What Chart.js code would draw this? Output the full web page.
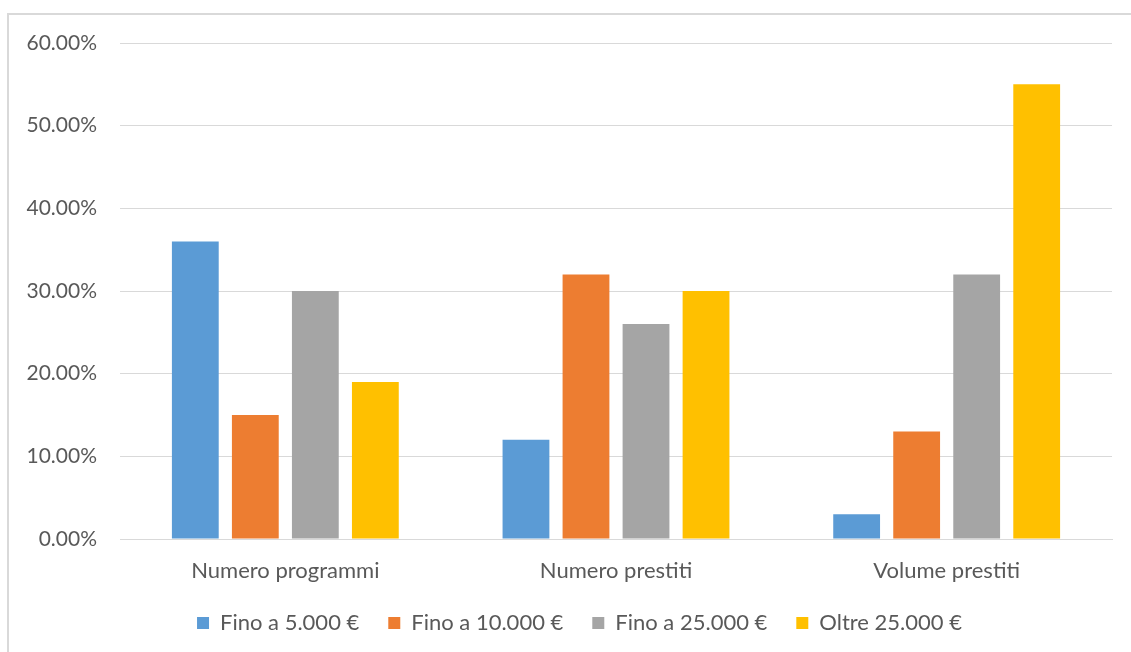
<!DOCTYPE html>
<html>
<head>
<meta charset="utf-8">
<script src="https://cdn.jsdelivr.net/npm/chart.js@4.4.1/dist/chart.umd.min.js"></script>
<style>
  html, body { margin: 0; padding: 0; background: #fff; }
  #box {
    position: absolute; left: 7px; top: 13px; width: 1122px; height: 637px;
    border-left: 2px solid #d9d9d9; border-top: 2px solid #d9d9d9;
  }
  canvas { display: block; }
</style>
</head>
<body>
<div id="box"><canvas id="chart" width="1122" height="637"></canvas></div>
<script>
const categories = ['Numero programmi', 'Numero prestiti', 'Volume prestiti'];
const seriesNames = ['Fino a 5.000 €', 'Fino a 10.000 €', 'Fino a 25.000 €', 'Oltre 25.000 €'];
const fino5000 = [36, 12, 3];
const fino10000 = [15, 32, 13];
const fino25000 = [30, 26, 32];
const oltre25000 = [19, 30, 55];
const yTicks = [0, 10, 20, 30, 40, 50, 60];

const colors = ['#5B9BD5', '#ED7D31', '#A5A5A5', '#FFC000'];
const values = [fino5000, fino10000, fino25000, oltre25000];

const family = 'Lato, "Open Sans", sans-serif';
const yFont = { family, size: 21 };
const xFont = { family, size: 22 };
const legendFont = { family, size: 22 };

// nudge the legend to where Excel puts it
const legendShift = {
  id: 'legendShift',
  afterLayout(chart) {
    const lg = chart.legend;
    lg.top -= 6; lg.bottom -= 6;
    lg.left += 19; lg.right += 19;
  }
};

new Chart(document.getElementById('chart'), {
  type: 'bar',
  data: {
    labels: categories,
    datasets: seriesNames.map((name, i) => ({
      label: name,
      data: values[i],
      backgroundColor: colors[i],
      borderWidth: 0,
      categoryPercentage: 0.726,
      barPercentage: 0.78
    }))
  },
  options: {
    responsive: false,
    animation: false,
    layout: { padding: { top: 28, right: 19, left: 0, bottom: 3 } },
    scales: {
      x: {
        afterFit: s => { s.height = 50; },
        grid: { display: false, drawTicks: false },
        border: { color: '#d9d9d9', width: 1 },
        ticks: { color: '#595959', font: xFont, padding: 19 }
      },
      y: {
        min: 0, max: 60,
        afterBuildTicks: s => { s.ticks = yTicks.map(v => ({ value: v })); },
        afterFit: s => { s.width = 111; s.paddingTop = 13; s.paddingBottom = 13; },
        grid: { color: '#d9d9d9', lineWidth: 1, drawTicks: false },
        border: { display: false },
        ticks: {
          color: '#595959', font: yFont, padding: 23,
          callback: v => v.toFixed(2) + '%'
        }
      }
    },
    plugins: {
      legend: {
        position: 'bottom',
        maxHeight: 60,
        labels: {
          color: '#595959', font: legendFont, boxWidth: 12, boxHeight: 12,
          padding: 29
        }
      },
      tooltip: { enabled: false }
    }
  },
  plugins: [legendShift]
});
</script>
</body>
</html>
